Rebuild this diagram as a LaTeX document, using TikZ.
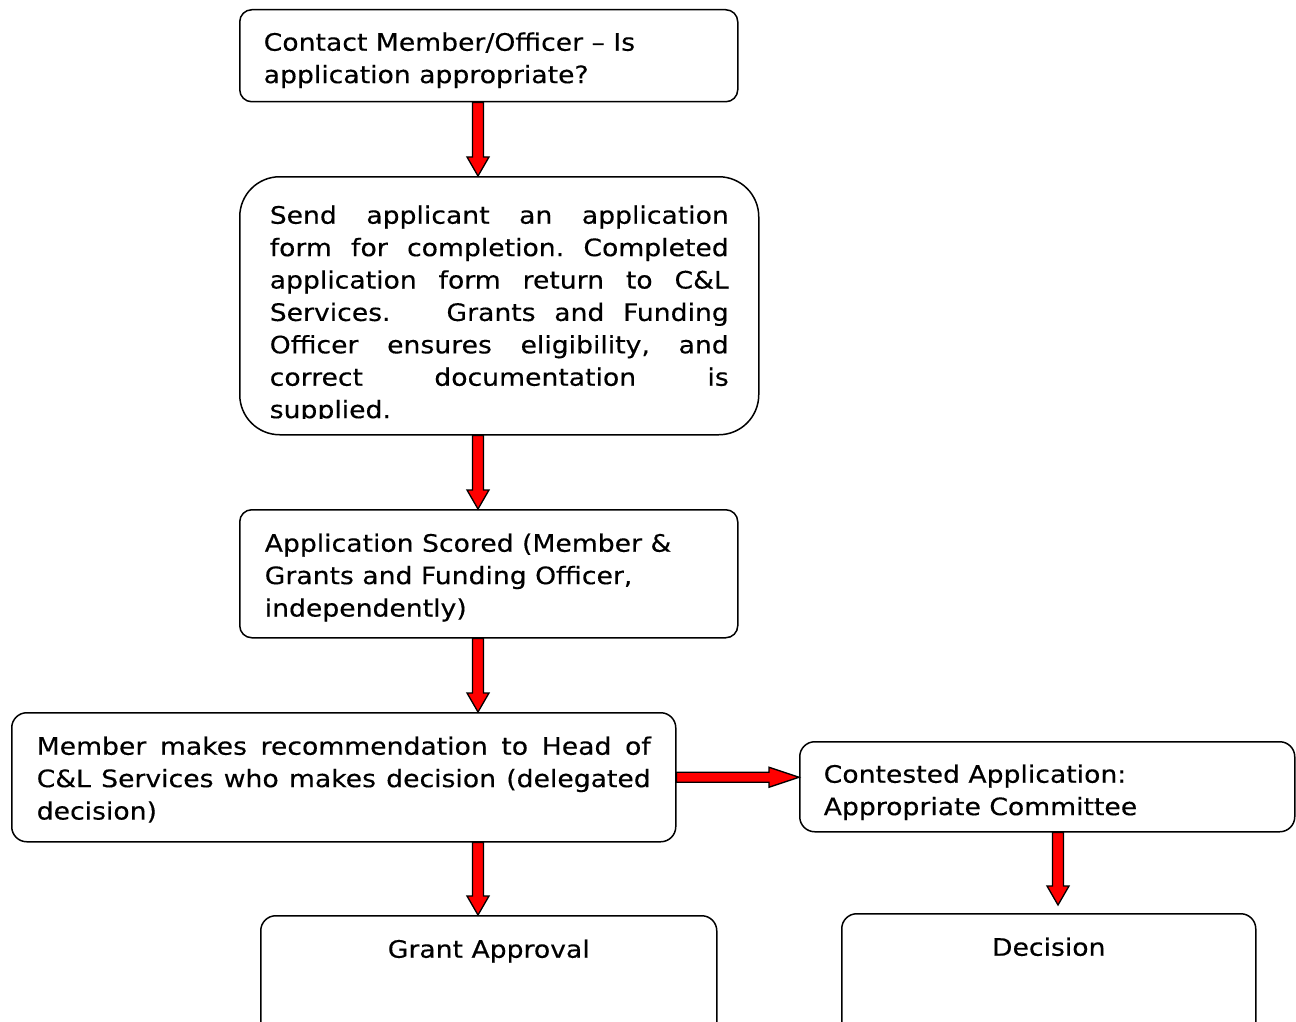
\documentclass[tikz,border=0pt]{standalone}
\usepackage{fontspec}
\setmainfont{DejaVu Sans}[FakeStretch=1.11,FakeBold=0.3]
\usetikzlibrary{calc}
\frenchspacing
\newcommand\bxt[4]{\begin{minipage}[t][#2][t]{#1}\frenchspacing#3\strut#4\end{minipage}}
\newcommand\jl[1]{\makebox[\linewidth][s]{#1}}
\newcommand\vblock[2]{\filldraw[blockarr] ([xshift=-5.5pt]#1) -- ([xshift=-5.5pt,yshift=19pt]#2) -- ([xshift=-11pt,yshift=19pt]#2) -- (#2) -- ([xshift=11pt,yshift=19pt]#2) -- ([xshift=5.5pt,yshift=19pt]#2) -- ([xshift=5.5pt]#1) -- cycle;}
\newcommand\hblock[2]{\filldraw[blockarr] ([yshift=5pt]#1) -- ([xshift=-30pt,yshift=5pt]#2) -- ([xshift=-30pt,yshift=10pt]#2) -- (#2) -- ([xshift=-30pt,yshift=-10pt]#2) -- ([xshift=-30pt,yshift=-5pt]#2) -- ([yshift=-5pt]#1) -- cycle;}
\begin{document}
\begin{tikzpicture}[x=1pt,y=-1pt,
  flowbox/.style={draw=black, line width=1.5pt, anchor=north west, inner ysep=0pt, inner xsep=0pt, font=\fontsize{24}{32.4}\selectfont, text=black, fill=white},
  blockarr/.style={fill=red, draw=black, line width=1.3pt, line join=miter}]
\clip (0,0) rectangle (1296,1022);
\fill[white] (0,0) rectangle (1296,1022);
% boxes
\node[flowbox, rounded corners=12pt, inner xsep=24pt, inner ysep=18.3pt] (b1) at (239,9)
  {\bxt{450pt}{55.4pt}{\raggedright}{Contact Member/Officer -- Is\\application appropriate?}};
\node[flowbox, rounded corners=40pt, minimum width=519pt, minimum height=258pt] (b2) at (239,176) {};
\begin{scope}
\clip (0,0) rectangle (1296,418);
\node[flowbox, draw=none, fill=none, inner xsep=30pt, inner ysep=24.3pt] (b2t) at (b2.north west)
  {\bxt{459pt}{209.4pt}{}{\jl{Send applicant an application}\\
   \jl{form for completion. Completed}\\
   \jl{application form return to C\&L}\\
   \jl{Services.\ \ \ Grants and Funding}\\
   \jl{Officer ensures eligibility, and}\\
   \jl{correct documentation is}\\
   supplied.}};
\end{scope}
\node[flowbox, rounded corners=12pt, inner xsep=25pt, inner ysep=19.3pt] (b3) at (239,509)
  {\bxt{448pt}{89.4pt}{\raggedright}{Application Scored (Member \&\\Grants and Funding Officer,\\independently)}};
\node[flowbox, rounded corners=15pt, inner xsep=25pt, inner ysep=19.3pt] (b4) at (11,712)
  {\bxt{614pt}{90.4pt}{}{\jl{Member makes recommendation to Head of}\\
   \jl{C\&L Services who makes decision (delegated}\\
   decision)}};
\node[flowbox, rounded corners=15pt, inner xsep=24pt, inner ysep=18.3pt] (b5) at (799,741)
  {\bxt{447pt}{53.4pt}{\raggedright}{Contested Application:\\Appropriate Committee}};
\node[flowbox, rounded corners=15pt, inner xsep=0pt, inner ysep=19.3pt] (b6) at (260,915)
  {\bxt{456pt}{86.4pt}{\centering}{Grant Approval}};
\node[flowbox, rounded corners=15pt, inner xsep=0pt, inner ysep=19.3pt] (b7) at (841,913)
  {\bxt{414pt}{86.4pt}{\centering}{Decision}};
% arrow coordinates
\coordinate (ax) at (478,0);
\coordinate (bx) at (1058,0);
\coordinate (a1s) at (ax |- b1.south);
\coordinate (a1e) at (ax |- b2.north);
\coordinate (a2s) at (ax |- b2.south);
\coordinate (a2e) at (ax |- b3.north);
\coordinate (a3s) at (ax |- b3.south);
\coordinate (a3e) at (ax |- b4.north);
\coordinate (a4s) at (ax |- b4.south);
\coordinate (a4e) at (ax |- b6.north);
\coordinate (h1s) at (b4.east);
\coordinate (h1e) at (b4.east -| b5.west);
\coordinate (a6s) at (bx |- b5.south);
\coordinate (a6e) at (1058,905);
\vblock{a1s}{a1e}
\vblock{a2s}{a2e}
\vblock{a3s}{a3e}
\vblock{a4s}{a4e}
\hblock{h1s}{h1e}
\vblock{a6s}{a6e}
\end{tikzpicture}
\end{document}
